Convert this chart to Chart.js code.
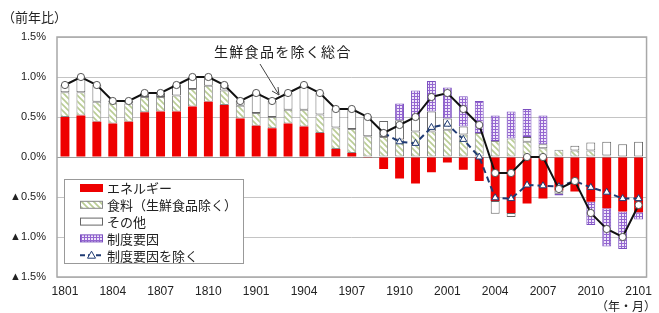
<!DOCTYPE html>
<html>
<head>
<meta charset="utf-8">
<script src="https://cdn.jsdelivr.net/npm/chart.js@4.4.1/dist/chart.umd.min.js"></script>
<style>
  html, body { margin: 0; padding: 0; background: #fff; }
  #wrap { width: 659px; height: 313px; position: relative; }
</style>
</head>
<body>
<div id="wrap"><canvas id="cpiChart"></canvas></div>
<script>
// 前年比寄与度 (%), 2018/01 - 2021/01
const months = ['1801','1802','1803','1804','1805','1806','1807','1808','1809','1810','1811','1812',
                '1901','1902','1903','1904','1905','1906','1907','1908','1909','1910','1911','1912',
                '2001','2002','2003','2004','2005','2006','2007','2008','2009','2010','2011','2012',
                '2101'];

const energy = [0.50, 0.52, 0.44, 0.42, 0.44, 0.56, 0.57, 0.57, 0.63, 0.69, 0.65, 0.48,
                0.39, 0.36, 0.42, 0.38, 0.30, 0.10, 0.05, -0.01, -0.15, -0.27, -0.33, -0.19,
                -0.07, -0.16, -0.30, -0.55, -0.70, -0.58, -0.52, -0.42, -0.43, -0.56, -0.64, -0.68,
                -0.69];
const food = [0.31, 0.29, 0.25, 0.26, 0.23, 0.19, 0.18, 0.20, 0.22, 0.20, 0.18, 0.16,
              0.16, 0.14, 0.17, 0.21, 0.23, 0.27, 0.30, 0.26, 0.25, 0.22, 0.32, 0.32,
              0.34, 0.28, 0.30, 0.20, 0.23, 0.19, 0.11, 0.09, 0.08, 0.08, 0.02, 0.00,
              0.00];
const other = [0.09, 0.19, 0.21, 0.02, 0.03, 0.05, 0.05, 0.13, 0.15, 0.11, 0.07, 0.06,
               0.25, 0.20, 0.21, 0.31, 0.27, 0.23, 0.25, 0.25, 0.20, 0.24, 0.18, 0.25,
               0.14, 0.10, 0.00, -0.16, -0.05, 0.06, 0.05, -0.04, 0.06, 0.10, 0.17, 0.16,
               0.19];
const policy = [0, 0, 0, 0, 0, 0, 0, 0, 0, 0, 0, 0,
                0, 0, 0, 0, 0, 0, 0, 0, 0, 0.21, 0.33, 0.38,
                0.39, 0.38, 0.40, 0.32, 0.34, 0.35, 0.36, -0.02, 0, -0.29, -0.48, -0.47,
                -0.09];
const coreTotal = [0.9, 1.0, 0.9, 0.7, 0.7, 0.8, 0.8, 0.9, 1.0, 1.0, 0.9, 0.7,
                   0.8, 0.7, 0.8, 0.9, 0.8, 0.6, 0.6, 0.5, 0.3, 0.4, 0.5, 0.75,
                   0.8, 0.6, 0.4, -0.2, -0.2, 0.0, 0.0, -0.4, -0.3, -0.7, -0.9, -1.0,
                   -0.6];
const exPolicy = [null, null, null, null, null, null, null, null, null, null, null, null,
                  null, null, null, null, null, null, null, null, 0.30, 0.19, 0.17, 0.37,
                  0.41, 0.22, 0.00, -0.51, -0.52, -0.35, -0.36, -0.37, -0.30, -0.38, -0.44, -0.52,
                  -0.52];
const yTicks = [1.5, 1.0, 0.5, 0.0, -0.5, -1.0, -1.5];

const FONT = "'Liberation Sans', Arial, 'DejaVu Sans', sans-serif";
const JP = "'Noto Sans CJK JP', 'Noto Sans', sans-serif";

function makeHatch() {
    const c = document.createElement('canvas');
    c.width = 6; c.height = 6;
    const g = c.getContext('2d');
    g.fillStyle = '#ffffff';
    g.fillRect(0, 0, 6, 6);
    g.strokeStyle = '#b9cc94';
    g.lineWidth = 1.6;
    g.beginPath();
    g.moveTo(-1, -1); g.lineTo(7, 7);
    g.moveTo(-1, 5); g.lineTo(1, 7);
    g.moveTo(5, -1); g.lineTo(7, 1);
    g.stroke();
    return g.createPattern(c, 'repeat');
}

function makeGrid() {
    const c = document.createElement('canvas');
    c.width = 3; c.height = 3;
    const g = c.getContext('2d');
    g.fillStyle = '#efe6fa';
    g.fillRect(0, 0, 3, 3);
    g.fillStyle = '#9466d0';
    g.fillRect(0, 0, 3, 1);
    g.fillRect(0, 0, 1, 3);
    return g.createPattern(c, 'repeat');
}

const hatch = makeHatch();
const grid = makeGrid();

const legendItems = [
    { text: 'エネルギー', kind: 'box', fill: '#ee0000', border: '#ee0000' },
    { text: '食料（生鮮食品除く）', kind: 'box', fill: hatch, border: '#888' },
    { text: 'その他', kind: 'box', fill: '#ffffff', border: '#666' },
    { text: '制度要因', kind: 'box', fill: grid, border: '#7b4fc0' },
    { text: '制度要因を除く', kind: 'line' }
];

const decorPlugin = {
    id: 'decor',
    afterDraw(chart) {
        const ctx = chart.ctx;
        const a = chart.chartArea;
        ctx.save();

        // plot frame
        ctx.strokeStyle = '#a8a8a8';
        ctx.lineWidth = 1.5;
        ctx.strokeRect(a.left, a.top, a.right - a.left, a.bottom - a.top);

        // titles
        ctx.fillStyle = '#222';
        ctx.font = '13px ' + JP;
        ctx.textBaseline = 'middle';
        ctx.textAlign = 'left';
        ctx.fillText('（前年比）', 2, 17);
        ctx.font = '12px ' + JP;
        ctx.textAlign = 'right';
        ctx.fillText('（年・月）', 656, 306);

        // annotation
        ctx.textAlign = 'left';
        ctx.font = '14px ' + JP;
        if ('letterSpacing' in ctx) ctx.letterSpacing = '1.3px';
        ctx.fillText('生鮮食品を除く総合', 214, 52);
        if ('letterSpacing' in ctx) ctx.letterSpacing = '0px';
        ctx.strokeStyle = '#444';
        ctx.lineWidth = 1;
        ctx.beginPath();
        ctx.moveTo(260, 64);
        ctx.lineTo(279, 95);
        ctx.moveTo(279, 95);
        ctx.lineTo(272, 91);
        ctx.moveTo(279, 95);
        ctx.lineTo(278, 87);
        ctx.stroke();

        // legend box
        ctx.fillStyle = '#fff';
        ctx.fillRect(64, 179, 179, 84);
        ctx.strokeStyle = '#999';
        ctx.lineWidth = 1;
        ctx.strokeRect(64.5, 179.5, 179, 84);
        ctx.font = '13px ' + JP;
        legendItems.forEach((it, i) => {
            const y = 188 + i * 16.8;
            if (it.kind === 'box') {
                ctx.fillStyle = it.fill;
                ctx.fillRect(80, y - 3.5, 23, 7);
                ctx.strokeStyle = it.border;
                ctx.strokeRect(80.5, y - 3.5, 22, 7);
            } else {
                ctx.strokeStyle = '#1f3b73';
                ctx.lineWidth = 2;
                ctx.setLineDash([5, 3]);
                ctx.beginPath();
                ctx.moveTo(80, y); ctx.lineTo(103, y);
                ctx.stroke();
                ctx.setLineDash([]);
                ctx.lineWidth = 1;
                ctx.fillStyle = '#fff';
                ctx.beginPath();
                ctx.moveTo(91.5, y - 4); ctx.lineTo(95.5, y + 3); ctx.lineTo(87.5, y + 3);
                ctx.closePath();
                ctx.fill(); ctx.stroke();
            }
            ctx.fillStyle = '#222';
            ctx.textAlign = 'left';
            ctx.fillText(it.text, 107, y + 0.5);
        });
        ctx.restore();
    }
};

const barBase = {
    type: 'bar',
    stack: 'bars',
    order: 3,
    borderWidth: 1,
    borderSkipped: false,
    categoryPercentage: 1.0,
    barPercentage: 0.56
};

new Chart(document.getElementById('cpiChart'), {
    data: {
        labels: months,
        datasets: [
            { ...barBase, label: 'エネルギー', data: energy, backgroundColor: '#ee0000', borderColor: '#e00000', borderWidth: 0 },
            { ...barBase, label: '食料（生鮮食品除く）', data: food, backgroundColor: hatch, borderColor: '#8a8a8a' },
            { ...barBase, label: 'その他', data: other, backgroundColor: '#ffffff', borderColor: '#666' },
            { ...barBase, label: '制度要因', data: policy, backgroundColor: grid, borderColor: '#7b4fc0' },
            {
                type: 'line', label: '制度要因を除く', data: exPolicy, stack: 'ex', order: 1,
                borderColor: '#1f3b73', borderWidth: 2, borderDash: [6, 4],
                pointStyle: 'triangle', pointRadius: 4, pointBackgroundColor: '#fff',
                pointBorderColor: '#1f3b73', pointBorderWidth: 1, tension: 0, spanGaps: false
            },
            {
                type: 'line', label: '生鮮食品を除く総合', data: coreTotal, stack: 'core', order: 0,
                borderColor: '#111', borderWidth: 2,
                pointStyle: 'circle', pointRadius: 3.6, pointBackgroundColor: '#fff',
                pointBorderColor: '#555', pointBorderWidth: 1, tension: 0
            }
        ]
    },
    options: {
        responsive: true,
        maintainAspectRatio: false,
        animation: false,
        layout: { padding: { top: 37, right: 4, bottom: 0, left: 0 } },
        plugins: {
            legend: { display: false },
            tooltip: { enabled: false }
        },
        scales: {
            x: {
                stacked: true,
                grid: { display: false, drawTicks: false },
                border: { display: false },
                ticks: {
                    autoSkip: false,
                    maxRotation: 0,
                    padding: 7,
                    color: '#222',
                    font: { family: FONT, size: 12 },
                    callback: (v, i) => (i % 3 === 0 ? months[i] : '')
                },
                afterFit: s => { s.height = 36; }
            },
            y: {
                stacked: true,
                min: -1.5,
                max: 1.5,
                afterBuildTicks: s => { s.ticks = yTicks.map(v => ({ value: v })); },
                grid: {
                    drawTicks: false,
                    lineWidth: 1,
                    color: c => (c.tick.value === 0 ? '#9a9a9a' : '#c4c4c4')
                },
                border: { display: false },
                ticks: {
                    padding: 11,
                    color: '#222',
                    font: { family: FONT, size: 11 },
                    callback: v => (v < 0 ? '▲' + Math.abs(v).toFixed(1) + '%' : v.toFixed(1) + '%')
                },
                afterFit: s => { s.width = 57; }
            }
        }
    },
    plugins: [decorPlugin]
});
</script>
</body>
</html>
